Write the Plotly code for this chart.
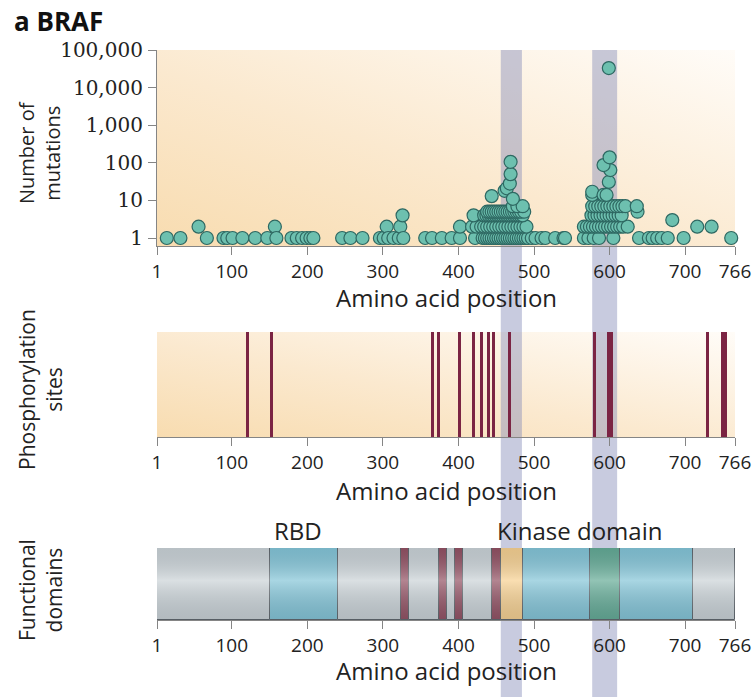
import base64
import plotly.graph_objects as go

W, H = 756, 697

# ---------------- data ----------------
tick_positions = [1, 100, 200, 300, 400, 500, 600, 700, 766]
count_ticks = [1, 10, 100, 1000, 10000, 100000]
count_tick_labels = ["1", "10", "100", "1,000", "10,000", "100,000"]

# mutation dots (amino acid position, number of mutations)
mut_pos_nterm = [14, 32, 56, 67, 89, 94, 101, 114, 131, 147, 157, 159, 179, 186, 193, 199,
                 204, 208, 246, 257, 273, 296, 301, 305, 307, 314, 321, 323, 326, 327]
mut_cnt_nterm = [1, 1, 2, 1, 1, 1, 1, 1, 1, 1, 2, 1, 1, 1, 1, 1,
                 1, 1, 1, 1, 1, 1, 1, 2, 1, 1, 1, 2, 4, 1]

mut_pos_row1 = [356, 365, 378, 391, 402, 422, 432, 435, 438, 441, 444, 447, 450, 453, 456,
                459, 462, 465, 468, 471, 474, 477, 480, 483, 486, 489, 492, 497, 502, 510,
                515, 528, 539, 541, 566, 572, 579, 586, 605, 639, 652, 657, 663, 669, 677,
                698, 761]
mut_pos_row2 = [402, 418, 424, 430, 434, 438, 442, 446, 450, 454, 458, 462, 466, 470, 474,
                478, 482, 486, 490, 566, 570, 574, 578, 582, 586, 590, 594, 598, 602, 606,
                610, 614, 618, 624, 716, 735]
mut_pos_row3 = [683]
mut_pos_row4 = [420, 434, 437, 440, 443, 446, 449, 452, 455, 458, 461, 464, 467, 470, 473,
                476, 479, 482, 485, 576, 580, 584, 588, 592, 596, 600, 604, 608, 612, 616]
mut_pos_row5 = [438, 441, 444, 447, 450, 453, 456, 459, 462, 465, 468, 471, 474, 477, 480,
                483, 487, 637]
mut_pos_row7 = [472, 478, 485, 577, 581, 585, 589, 593, 597, 601, 605, 609, 613, 617, 621, 636]
mut_pos_high = [444, 461, 464, 468, 469, 469, 472, 577, 577, 592, 596, 599, 601, 592, 600, 599]
mut_cnt_high = [13, 18, 21, 28, 50, 106, 11, 14, 17, 14, 14, 31, 64, 87, 140, 33000]

# phosphorylation sites
phospho_sites = [121, 153, 366, 374, 401, 420, 430, 440, 446, 467, 580, 599, 602, 729, 750, 753]

# functional domains
domain_start = [1, 151, 240, 324, 335, 374, 385, 396, 406, 445, 456, 485, 574, 614, 711]
domain_end = [151, 240, 324, 335, 374, 385, 396, 406, 445, 456, 485, 574, 614, 711, 766]
domain_type = ["linker", "RBD", "linker", "phos", "linker", "phos", "linker", "phos",
               "linker", "phos", "gloop", "kinase", "activation", "kinase", "linker"]
domain_label_text = ["RBD", "Kinase domain"]
domain_label_pos = [187, 560]

# highlighted regions (shaded bands)
band_start = [456, 577]
band_end = [484, 610]

# ---------------- assemble ----------------
mut_pos = (mut_pos_nterm + mut_pos_row1 + mut_pos_row2 + mut_pos_row3 + mut_pos_row4
           + mut_pos_row5 + mut_pos_row7 + mut_pos_high)
mut_cnt = (mut_cnt_nterm + [1] * len(mut_pos_row1) + [2] * len(mut_pos_row2)
           + [3] * len(mut_pos_row3) + [4] * len(mut_pos_row4) + [5] * len(mut_pos_row5)
           + [7] * len(mut_pos_row7) + mut_cnt_high)

type_color = {"linker": "#c9d1d5", "RBD": "#80c3d6", "phos": "#8f4b5d",
              "gloop": "#f7cf8d", "kinase": "#80c3d6", "activation": "#5fa892"}


def px_y(p):
    return 1 - p / H


X0, X1 = 157, 735
xdom = [X0 / W, X1 / W]
P1 = (50, 246)
ONE_PX = 238.0
P2 = (332, 437)
P3 = (548, 620)

fig = go.Figure()

fig.add_trace(go.Scatter(
    x=mut_pos, y=mut_cnt, mode="markers", xaxis="x", yaxis="y",
    marker=dict(size=13, color="#6dc0af", line=dict(color="#2e6862", width=1.2)),
    cliponaxis=False, showlegend=False, hoverinfo="x+y"))

fig.add_trace(go.Bar(
    x=phospho_sites, y=[1] * len(phospho_sites), width=4, xaxis="x2", yaxis="y2",
    marker=dict(color="#7b2443", line=dict(width=0)), showlegend=False))

fig.add_trace(go.Bar(
    y=[0] * len(domain_start), x=[e - s for s, e in zip(domain_start, domain_end)],
    base=domain_start, orientation="h", width=1, xaxis="x3", yaxis="y3",
    marker=dict(color=[type_color[t] for t in domain_type],
                line=dict(color="#5b6268", width=1)),
    text=domain_type, hoverinfo="text", textposition="none", showlegend=False))


def svg_uri(svg):
    return "data:image/svg+xml;base64," + base64.b64encode(svg.encode()).decode()


bg_svg = ("<svg xmlns='http://www.w3.org/2000/svg' width='600' height='200' viewBox='0 0 600 200' "
          "preserveAspectRatio='none'><defs><linearGradient id='g' x1='0' y1='1' x2='1' y2='0'>"
          "<stop offset='0' stop-color='#f8dcb0'/><stop offset='0.45' stop-color='#fbe9cf'/>"
          "<stop offset='1' stop-color='#fffcf8'/></linearGradient></defs>"
          "<rect width='600' height='200' fill='url(#g)'/></svg>")
shine_svg = ("<svg xmlns='http://www.w3.org/2000/svg' width='100' height='100' viewBox='0 0 100 100' "
             "preserveAspectRatio='none'><defs><linearGradient id='h' x1='0' y1='0' x2='0' y2='1'>"
             "<stop offset='0' stop-color='#404850' stop-opacity='0.12'/>"
             "<stop offset='0.45' stop-color='#ffffff' stop-opacity='0.32'/>"
             "<stop offset='1' stop-color='#404850' stop-opacity='0.16'/></linearGradient></defs>"
             "<rect width='100' height='100' fill='url(#h)'/></svg>")

images = []
for (a, b) in (P1, P2):
    images.append(dict(source=svg_uri(bg_svg), xref="paper", yref="paper",
                       x=X0 / W, y=px_y(a), sizex=(X1 - X0) / W, sizey=(b - a) / H,
                       xanchor="left", yanchor="top", sizing="stretch", layer="below"))
images.append(dict(source=svg_uri(shine_svg), xref="paper", yref="paper",
                   x=X0 / W, y=px_y(P3[0]), sizex=(X1 - X0) / W, sizey=(P3[1] - P3[0]) / H,
                   xanchor="left", yanchor="top", sizing="stretch", layer="above"))

shapes = []
for s, e in zip(band_start, band_end):
    shapes.append(dict(type="rect", xref="x", yref="paper", x0=s, x1=e, y0=0, y1=px_y(P1[0]),
                       fillcolor="rgba(133,140,184,0.45)", line=dict(width=0), layer="below"))

tickfont = dict(family="Open Sans", size=19, color="#222")
xcommon = dict(domain=xdom, range=[1, 766], tickmode="array", tickvals=tick_positions,
               ticktext=[str(t) for t in tick_positions], ticks="outside", ticklen=8,
               tickwidth=1.2, tickcolor="#858585", showline=True, linecolor="#858585",
               linewidth=1.2, showgrid=False, zeroline=False, tickfont=tickfont,
               ticklabelstandoff=0, fixedrange=True, automargin=False)

dec = (ONE_PX - P1[0]) / 5.0
y1_lo = -(P1[1] - ONE_PX) / dec

fig.update_layout(
    width=W, height=H, margin=dict(l=0, r=0, t=0, b=0, pad=0, autoexpand=False),
    autosize=False, paper_bgcolor="white", plot_bgcolor="rgba(0,0,0,0)",
    xaxis=dict(anchor="y", **xcommon),
    xaxis2=dict(anchor="y2", **xcommon),
    xaxis3=dict(anchor="y3", **xcommon),
    yaxis=dict(domain=[px_y(P1[1]), px_y(P1[0])], type="log", range=[y1_lo, 5.0],
               tickmode="array", tickvals=count_ticks, ticktext=count_tick_labels,
               ticks="outside", ticklen=8, tickwidth=1.2, tickcolor="#858585",
               showline=True, linecolor="#858585", linewidth=1.2, showgrid=False,
               zeroline=False, tickfont=dict(family="DejaVu Serif", size=20, color="#222"),
               ticklabelstandoff=1, fixedrange=True, automargin=False),
    yaxis2=dict(domain=[px_y(P2[1]), px_y(P2[0])], range=[0, 1], showticklabels=False,
                ticks="", showline=False, showgrid=False, zeroline=False, fixedrange=True,
                automargin=False),
    yaxis3=dict(domain=[px_y(P3[1]), px_y(P3[0])], range=[-0.5, 0.5], showticklabels=False,
                ticks="", showline=False, showgrid=False, zeroline=False, fixedrange=True,
                automargin=False),
    images=images, shapes=shapes, bargap=0, showlegend=False,
)

tfont = dict(family="Open Sans", size=24, color="#222")
yfont = dict(family="Open Sans", size=21, color="#222")
ann = [
    dict(text="<b>a BRAF</b>", x=12 / W, y=px_y(21), xanchor="left", yanchor="middle",
         font=dict(family="Open Sans", size=26, color="#111")),
    dict(text="Number of<br>mutations", x=40 / W, y=px_y(153), textangle=-90,
         xanchor="center", yanchor="middle", font=dict(family="Open Sans", size=20, color="#222")),
    dict(text="Phosphorylation<br>sites", x=40 / W, y=px_y(390), textangle=-90,
         xanchor="center", yanchor="middle", font=yfont),
    dict(text="Functional<br>domains", x=40 / W, y=px_y(590), textangle=-90,
         xanchor="center", yanchor="middle", font=yfont),
]
for ypx in (298, 490, 670):
    ann.append(dict(text="Amino acid position", x=(X0 + X1) / 2 / W, y=px_y(ypx),
                    xanchor="center", yanchor="middle", font=tfont))
for t, p in zip(domain_label_text, domain_label_pos):
    ann.append(dict(text=t, x=p, xref="x3", y=px_y(530), yref="paper",
                    xanchor="center", yanchor="middle", font=tfont))
for a in ann:
    a.setdefault("xref", "paper")
    a.setdefault("yref", "paper")
    a["showarrow"] = False
fig.update_layout(annotations=ann)

fig.write_html(
    "out.html",
    config={"displayModeBar": False},
    post_script=("document.documentElement.style.margin='0';"
                 "document.documentElement.style.overflow='hidden';"
                 "document.body.style.margin='0';document.body.style.padding='0';"
                 "document.body.style.overflow='hidden';"),
)
